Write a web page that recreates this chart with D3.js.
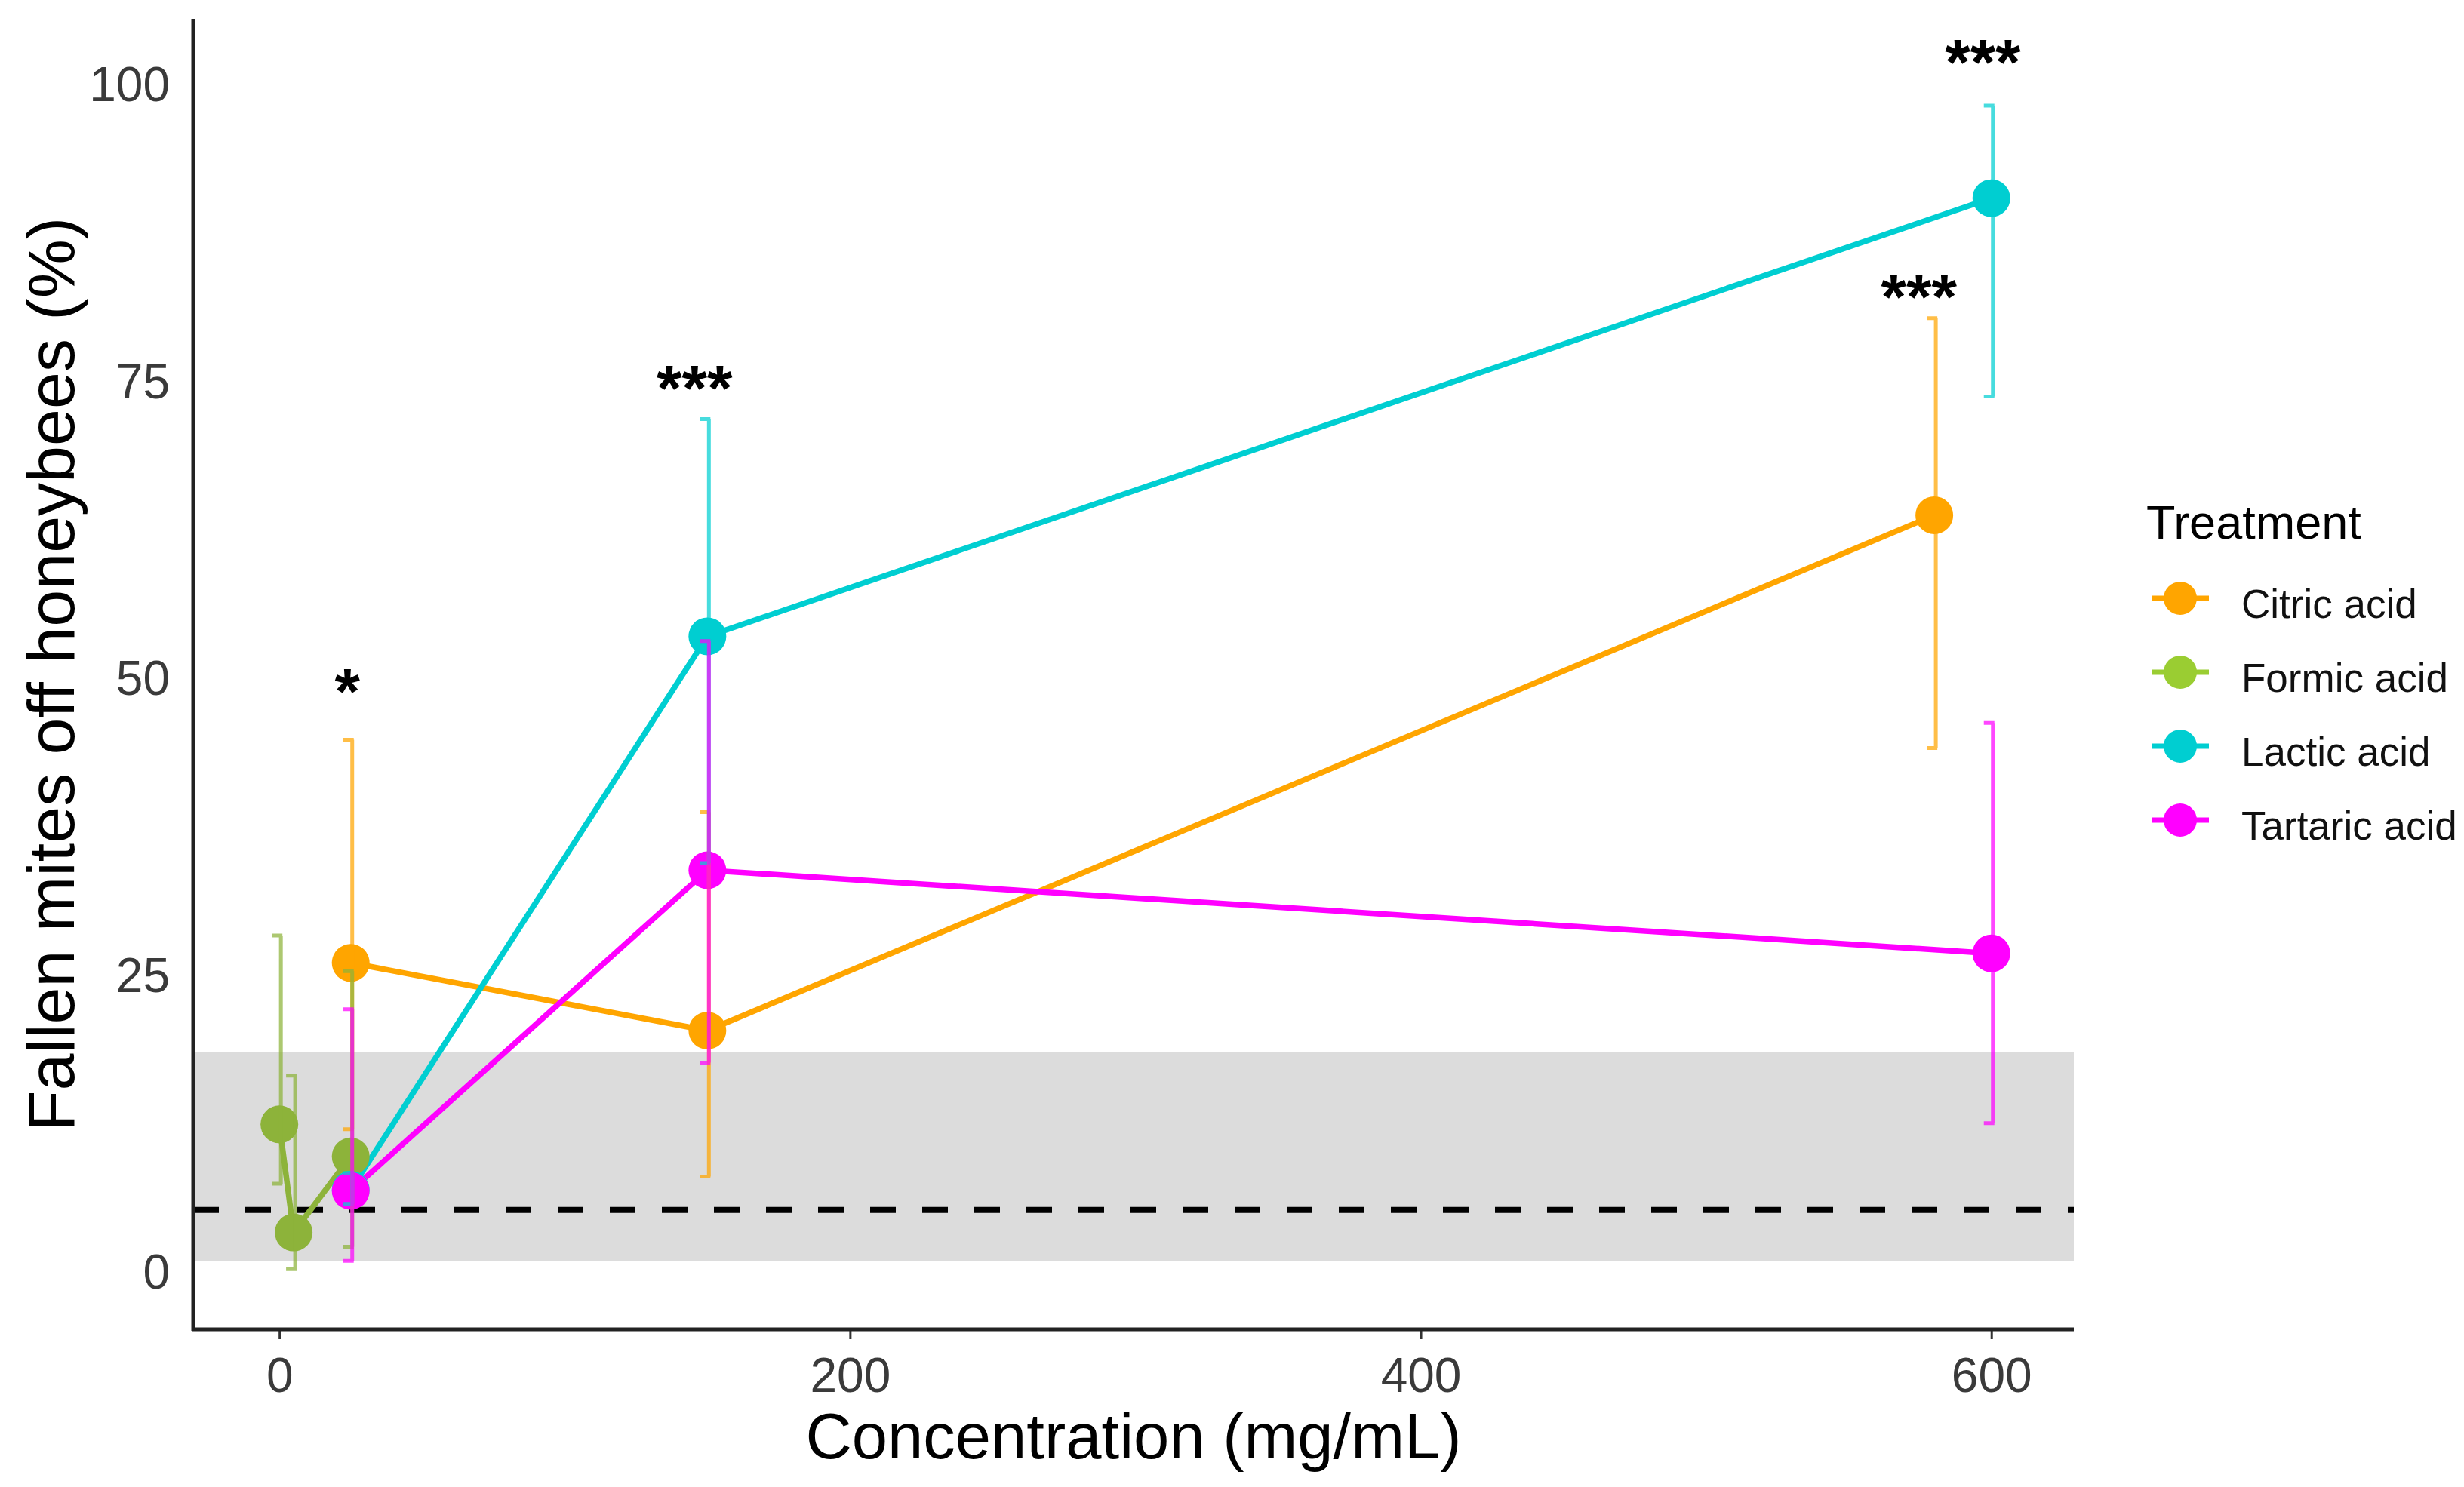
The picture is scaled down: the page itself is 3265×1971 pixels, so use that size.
<!DOCTYPE html>
<html>
<head>
<meta charset="utf-8">
<script src="https://cdn.jsdelivr.net/npm/d3@7"></script>
<style>
  body { margin: 0; background: #fff; }
  svg { display: block; font-family: "Liberation Sans", Arial, sans-serif; }
</style>
</head>
<body>
<script>
// data
var treatments = ["Citric acid", "Formic acid", "Lactic acid", "Tartaric acid"];

var citricConc = [25, 150, 580];
var citricMean = [26.1, 20.4, 63.8];
var citricLow  = [12.1, 8.1, 44.2];
var citricHigh = [44.9, 38.8, 80.4];

var formicConc = [0, 5, 25];
var formicMean = [12.5, 3.4, 9.8];
var formicLow  = [7.5, 0.3, 2.2];
var formicHigh = [28.4, 16.6, 25.4];

var lacticConc = [25, 150, 600];
var lacticMean = [7.0, 53.6, 90.5];
var lacticLow  = [5.8, 34.5, 73.8];
var lacticHigh = [8.4, 71.9, 98.3];

var tartaricConc = [25, 150, 600];
var tartaricMean = [6.9, 33.9, 26.9];
var tartaricLow  = [1.0, 17.7, 12.6];
var tartaricHigh = [22.2, 53.2, 46.3];

var xTicks = [0, 200, 400, 600];
var yTicks = [0, 25, 50, 75, 100];

// control reference: band and dashed mean line
var controlBand = [1.0, 18.6];
var controlMean = 5.3;

// significance marks
var starLabels = ["*", "***", "***", "***"];
var starX = [23.8, 145.5, 574.6, 597];
var starY = [47.1, 72.6, 80.3, 100.1];

(function() {
  var series = [
    {name: treatments[0], conc: citricConc, mean: citricMean, low: citricLow, high: citricHigh},
    {name: treatments[1], conc: formicConc, mean: formicMean, low: formicLow, high: formicHigh},
    {name: treatments[2], conc: lacticConc, mean: lacticMean, low: lacticLow, high: lacticHigh},
    {name: treatments[3], conc: tartaricConc, mean: tartaricMean, low: tartaricLow, high: tartaricHigh}
  ].map(function(s) {
    s.points = s.conc.map(function(c, i) {
      return {x: c, y: s.mean[i], lo: s.low[i], hi: s.high[i]};
    });
    return s;
  });

  var plotColor = d3.scaleOrdinal().domain(treatments)
    .range(["#FFA500", "#8DB33A", "#00CED1", "#FF00FF"]);
  var keyColor = d3.scaleOrdinal().domain(treatments)
    .range(["#FFA500", "#9ACD32", "#00CED1", "#FF00FF"]);

  var W = 3265, H = 1971;
  var pLeft = 256, pRight = 2748, pTop = 25, pBottom = 1762;

  var svg = d3.select("body").append("svg")
    .attr("width", W).attr("height", H);

  var x = d3.scaleLinear().domain([-30.2, 628.9]).range([pLeft, pRight]);
  var y = d3.scaleLinear().domain([-4.76, 105.6]).range([pBottom, pTop]);

  // grey band + dashed line
  svg.append("rect")
    .attr("x", pLeft).attr("width", pRight - pLeft)
    .attr("y", y(controlBand[1]))
    .attr("height", y(controlBand[0]) - y(controlBand[1]))
    .attr("fill", "#DCDCDC");

  svg.append("line")
    .attr("x1", pLeft).attr("x2", pRight)
    .attr("y1", y(controlMean)).attr("y2", y(controlMean))
    .attr("stroke", "#000").attr("stroke-width", 8)
    .attr("stroke-dasharray", "34,35");

  // lines
  var line = d3.line().x(function(d) { return x(d.x); }).y(function(d) { return y(d.y); });

  svg.append("g").selectAll("path")
    .data(series).enter().append("path")
    .attr("d", function(s) { return line(s.points); })
    .attr("fill", "none")
    .attr("stroke", function(s) { return plotColor(s.name); })
    .attr("stroke-width", 7.5);

  // points
  series.forEach(function(s) {
    svg.append("g").selectAll("circle")
      .data(s.points).enter().append("circle")
      .attr("cx", function(d) { return x(d.x); })
      .attr("cy", function(d) { return y(d.y); })
      .attr("r", 25)
      .attr("fill", plotColor(s.name));
  });

  // error bars on top, slightly transparent, caps to the left
  series.forEach(function(s) {
    var g = svg.append("g")
      .attr("stroke", plotColor(s.name))
      .attr("stroke-width", 5)
      .attr("opacity", 0.72)
      .attr("fill", "none");
    g.selectAll("path")
      .data(s.points).enter().append("path")
      .attr("d", function(d) {
        var cx = x(d.x) + 2;
        return "M" + (cx - 12) + "," + y(d.hi) + "H" + (cx + 2) +
               "M" + cx + "," + y(d.hi) + "V" + y(d.lo) +
               "M" + (cx - 12) + "," + y(d.lo) + "H" + (cx + 2);
      });
  });

  // stars
  svg.append("g").selectAll("text")
    .data(starLabels).enter().append("text")
    .attr("x", function(d, i) { return x(starX[i]); })
    .attr("y", function(d, i) { return y(starY[i]); })
    .attr("text-anchor", "middle")
    .attr("font-size", 86)
    .attr("font-weight", "bold")
    .attr("fill", "#000")
    .text(function(d) { return d; });

  // x axis
  var xAxis = svg.append("g")
    .attr("transform", "translate(0," + pBottom + ")")
    .call(d3.axisBottom(x).tickValues(xTicks).tickSize(13).tickSizeOuter(0).tickPadding(25));
  xAxis.select(".domain").remove();
  xAxis.selectAll(".tick line").attr("stroke", "#333").attr("stroke-width", 3);
  xAxis.selectAll(".tick text")
    .attr("font-size", 64).attr("fill", "#3a3a3a")
    .attr("font-family", "Liberation Sans, Arial, sans-serif");

  // y axis
  var yAxis = svg.append("g")
    .attr("transform", "translate(" + pLeft + ",0)")
    .call(d3.axisLeft(y).tickValues(yTicks).tickSize(0).tickPadding(31));
  yAxis.select(".domain").remove();
  yAxis.selectAll(".tick text")
    .attr("font-size", 64).attr("fill", "#3a3a3a")
    .attr("font-family", "Liberation Sans, Arial, sans-serif");

  // axis lines
  svg.append("line")
    .attr("x1", pLeft).attr("x2", pLeft).attr("y1", pTop).attr("y2", pBottom + 2)
    .attr("stroke", "#222").attr("stroke-width", 5);
  svg.append("line")
    .attr("x1", pLeft - 2).attr("x2", pRight).attr("y1", pBottom).attr("y2", pBottom)
    .attr("stroke", "#222").attr("stroke-width", 5);

  // axis titles
  svg.append("text")
    .attr("x", (pLeft + pRight) / 2).attr("y", 1933)
    .attr("text-anchor", "middle")
    .attr("font-size", 85).attr("fill", "#000")
    .text("Concentration (mg/mL)");

  svg.append("text")
    .attr("transform", "translate(98," + (pTop + pBottom) / 2 + ") rotate(-90)")
    .attr("text-anchor", "middle")
    .attr("font-size", 88).attr("fill", "#000")
    .text("Fallen mites off honeybees (%)");

  // legend
  var legend = svg.append("g");
  legend.append("text")
    .attr("x", 2844).attr("y", 714)
    .attr("font-size", 63).attr("fill", "#000")
    .text("Treatment");

  var keys = legend.selectAll("g.key")
    .data(treatments).enter().append("g")
    .attr("class", "key")
    .attr("transform", function(d, i) { return "translate(2889," + (793 + i * 98) + ")"; });
  keys.append("line")
    .attr("x1", -38).attr("x2", 38)
    .attr("stroke", function(d) { return keyColor(d); })
    .attr("stroke-width", 7);
  keys.append("circle")
    .attr("r", 22)
    .attr("fill", function(d) { return keyColor(d); });
  keys.append("text")
    .attr("x", 81).attr("y", 26)
    .attr("font-size", 53).attr("fill", "#111")
    .text(function(d) { return d; });
}());
</script>
</body>
</html>
